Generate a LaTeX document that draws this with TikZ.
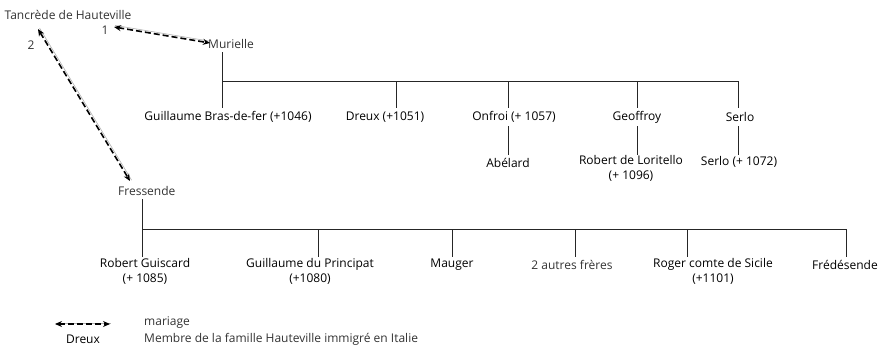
\documentclass[tikz,border=0pt]{standalone}
\usepackage{fontspec}
\setmainfont{Open Sans}
\usetikzlibrary{arrows.meta}
\begin{document}
\begin{tikzpicture}[x=1pt,y=-1pt,
  lbl/.style={font=\fontsize{12}{15}\selectfont, inner sep=0pt, align=center, text=black},
  anc/.style={lbl, text=black!80},
  tree/.style={line width=0.9pt, black!85},
  marr/.style={dashed, dash pattern=on 6pt off 3pt, line width=1.6pt, {Stealth[length=7pt,width=6pt]}-{Stealth[length=7pt,width=6pt]}},
  shade/.style={line width=0.6pt, black!30}]
\useasboundingbox (0,0) rectangle (882,362);
% ancestors
\node[anc] (tan) at (68,15) {Tancrède de Hauteville};
\node[anc] (one) at (105,30) {1};
\node[anc] (two) at (31,45) {2};
\node[anc, anchor=west] (mur) at (208,44) {Murielle};
\node[anc, anchor=west] (fre) at (118,191) {Fressende};
\coordinate (t1) at (114,27);
\coordinate (m1) at (210,43);
\coordinate (t2) at (38,29);
\coordinate (f1) at (130,181);
\draw[shade] ([shift={(1.2,-1.6)}]t1) -- ([shift={(1.2,-1.6)}]m1);
\draw[marr] (t1) -- (m1);
\draw[shade] ([shift={(1.6,-0.9)}]t2) -- ([shift={(1.6,-0.9)}]f1);
\draw[marr] (t2) -- (f1);
% first family
\node[lbl] (gbf) at (228,117) {Guillaume Bras-de-fer (+1046)};
\node[lbl] (dre) at (385,117) {Dreux (+1051)};
\node[lbl] (onf) at (514,117) {Onfroi (+ 1057)};
\node[lbl] (geo) at (637,117) {Geoffroy};
\node[lbl] (ser) at (740,117) {Serlo};
\node[lbl] (abe) at (508,163) {Abélard};
\node[lbl, anchor=north] (rlo) at (631,155) {Robert de Loritello\\(+ 1096)};
\node[lbl] (se2) at (739,162) {Serlo (+ 1072)};
\coordinate (ma) at (222,81);
\coordinate (mz) at (738,81);
\coordinate (mbot) at (222,52);
\draw[tree] (mbot) -- (ma) -- (mz);
\draw[tree] (ma) -- (222,108);
\draw[tree] (396,81) -- (396,108);
\draw[tree] (508,81) -- (508,108);
\draw[tree] (637,81) -- (637,108);
\draw[tree] (mz) -- (738,108);
\draw[tree] (508,126) -- (508,155);
\draw[tree] (637,126) -- (637,155);
\draw[tree] (738,126) -- (738,155);
% second family
\node[lbl, anchor=north] (rgu) at (145,258) {Robert Guiscard\\(+ 1085)};
\node[lbl, anchor=north] (gpr) at (310,258) {Guillaume du Principat\\(+1080)};
\node[lbl] (mau) at (452,265) {Mauger};
\node[anc] (aut) at (572,265) {2 autres frères};
\node[lbl, anchor=north] (rog) at (713,258) {Roger comte de Sicile\\(+1101)};
\node[lbl] (frd) at (845,265) {Frédésende};
\coordinate (fa) at (142,229);
\coordinate (fz) at (846,229);
\draw[tree] (142,199) -- (fa) -- (fz);
\foreach \x in {142,318,452,575,687,846} \draw[tree] (\x,229) -- (\x,257);
% legend
\coordinate (la) at (55,324);
\coordinate (lb) at (110,324);
\draw[shade] ([shift={(1,-1)}]la) -- ([shift={(1,-1)}]lb);
\draw[marr] (la) -- (lb);
\node[anc, anchor=west] (lmar) at (144,323) {mariage};
\node[lbl] (ldre) at (83,339) {Dreux};
\node[anc, anchor=west] (lmem) at (144,339) {Membre de la famille Hauteville immigré en Italie};
\end{tikzpicture}
\end{document}
